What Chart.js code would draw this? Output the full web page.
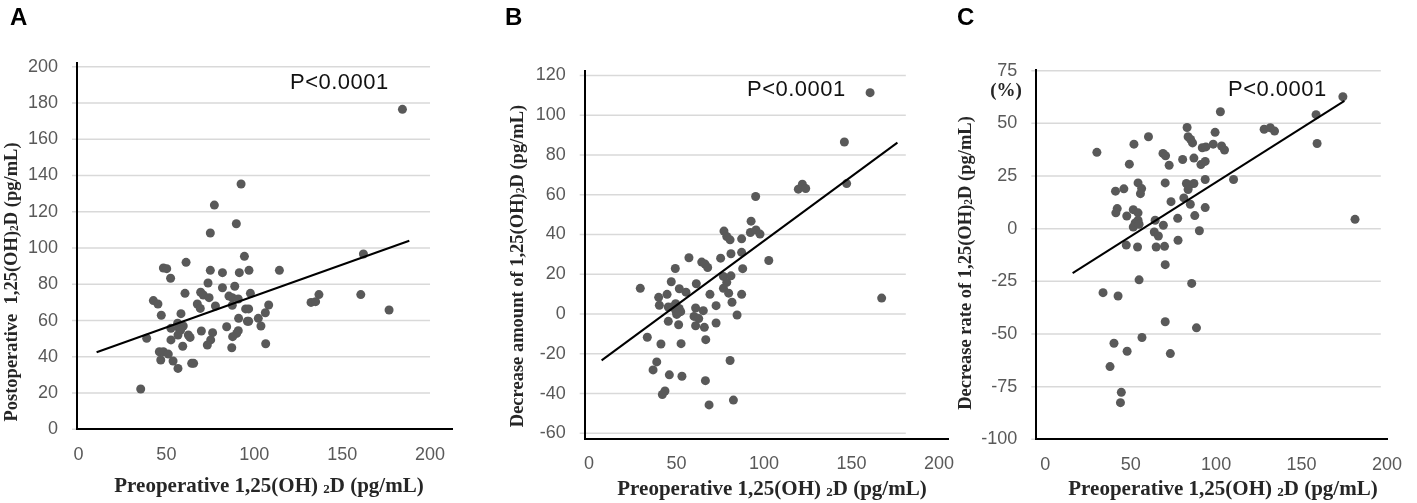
<!DOCTYPE html>
<html><head><meta charset="utf-8">
<script src="https://cdn.jsdelivr.net/npm/chart.js@4.4.1/dist/chart.umd.min.js"></script>
<style>
html,body{margin:0;padding:0;background:#fff;width:1417px;height:503px;overflow:hidden;position:relative;}
canvas{position:absolute;left:0;top:0;width:1417px;height:503px;}
.t{position:absolute;white-space:nowrap;line-height:1;}
.letter{font-family:'Liberation Sans',Arial,sans-serif;font-weight:bold;font-size:24px;color:#000;transform:translateY(-50%);}
.p{font-family:'Liberation Sans',Arial,sans-serif;font-size:22px;letter-spacing:0.5px;color:#111;transform:translateY(-50%);}
.xt{font-family:'Liberation Serif','Times New Roman',serif;font-weight:bold;font-size:21px;color:#262626;transform:translate(-50%,-50%);}
.yt{font-family:'Liberation Serif','Times New Roman',serif;font-weight:bold;font-size:18.5px;color:#262626;transform:translate(-50%,-50%) rotate(-90deg);}
.pc{font-family:'Liberation Serif','Times New Roman',serif;font-weight:bold;font-size:19px;color:#262626;transform:translate(-50%,-50%);}
.sub{font-size:0.62em;vertical-align:-0.1em;}
</style></head><body>
<canvas id="cA" width="1417" height="503"></canvas>
<canvas id="cB" width="1417" height="503"></canvas>
<canvas id="cC" width="1417" height="503"></canvas>

<div class="t letter" style="left:10px;top:17px;">A</div>
<div class="t letter" style="left:505px;top:17px;">B</div>
<div class="t letter" style="left:957px;top:17px;">C</div>

<div class="t p" style="left:290px;top:82px;">P&lt;0.0001</div>
<div class="t p" style="left:747px;top:89px;">P&lt;0.0001</div>
<div class="t p" style="left:1228px;top:89px;">P&lt;0.0001</div>

<div class="t xt" style="left:269px;top:485px;">Preoperative 1,25(OH) <span class="sub">2</span>D (pg/mL)</div>
<div class="t xt" style="left:772px;top:488px;">Preoperative 1,25(OH) <span class="sub">2</span>D (pg/mL)</div>
<div class="t xt" style="left:1223px;top:488px;">Preoperative 1,25(OH) <span class="sub">2</span>D (pg/mL)</div>

<div class="t yt" style="left:11px;top:282px;">Postoperative&nbsp; 1,25(OH)<span class="sub">2</span>D (pg/mL)</div>
<div class="t yt" style="left:517px;top:266px;">Decrease amount of 1,25(OH)<span class="sub">2</span>D (pg/mL)</div>
<div class="t yt" style="left:965px;top:263px;">Decrease rate of 1,25(OH)<span class="sub">2</span>D (pg/mL)</div>
<div class="t pc" style="left:1006px;top:89px;">(%)</div>

<script>
// ---------- data ----------
const xTickValues = [0, 50, 100, 150, 200];
const yTicksA = [0, 20, 40, 60, 80, 100, 120, 140, 160, 180, 200];
const yTicksB = [-60, -40, -20, 0, 20, 40, 60, 80, 100, 120];
const yTicksC = [-100, -75, -50, -25, 0, 25, 50, 75];

const preA = [184.3,92.5,77.3,75.0,89.8,94.4,162.1,61.2,48.3,50.2,75.0,81.9,91.5,97.0,114.3,52.4,73.7,88.9,81.9,60.6,69.5,71.0,74.3,97.8,136.8,160.6,85.6,87.5,90.9,42.6,45.2,67.6,77.9,87.5,69.3,108.2,132.3,134.9,95.1,96.8,176.7,106.3,58.3,47.1,91.1,102.3,96.1,96.8,103.8,84.3,56.4,59.6,52.6,57.2,58.1,90.9,69.9,76.3,90.0,56.6,62.5,63.5,87.7,52.6,75.2,38.8,73.3,59.3,87.2,106.5,46.0,48.3,51.1,46.8,53.8,64.4,65.5,56.6,35.4];
const postA = [176.5,135.3,123.7,108.3,113.4,95.4,96.7,92.1,89.0,88.6,87.7,86.4,86.4,87.7,87.7,83.3,80.7,78.9,78.1,75.0,75.6,74.1,72.6,75.0,74.3,74.3,73.5,72.6,71.9,71.0,69.1,69.1,68.0,68.4,66.7,68.6,70.0,70.4,66.4,66.4,65.8,64.3,63.8,62.9,61.2,61.2,59.6,59.6,57.0,56.6,58.5,57.0,55.7,55.7,54.8,54.4,54.2,53.3,52.9,52.0,52.0,50.7,51.1,49.3,49.3,50.2,46.5,45.8,45.0,47.2,42.8,42.8,41.5,38.2,37.7,36.4,36.4,33.6,22.2];
const trendXA = [10.3, 188.2];
const trendYA = [42.5, 104.0];

const preB = [160.6,145.9,147.2,119.6,121.9,123.8,95.2,92.6,92.2,95.4,97.7,77.1,78.7,80.6,87.2,102.7,75.2,81.1,87.2,87.8,57.1,64.4,66.3,67.8,49.3,47.0,61.3,76.8,81.1,78.7,76.8,79.8,69.1,87.2,29.3,51.6,55.4,44.6,39.8,40.2,45.3,49.5,51.0,52.4,50.1,60.9,65.3,72.6,81.7,60.0,62.7,60.9,65.9,51.2,45.3,72.6,84.6,33.3,41.1,52.6,66.7,80.6,38.7,36.6,45.9,53.1,66.5,43.4,41.9,82.5,68.6,167.2,47.5,49.7,51.5,50.5];
const decB = [111.3,86.5,65.6,62.8,65.3,63.1,59.1,46.7,41.0,42.3,40.2,41.7,39.0,37.3,37.8,26.9,28.1,30.3,31.0,22.8,28.3,26.1,25.1,23.4,22.9,16.2,15.2,18.9,19.2,15.9,12.9,10.5,9.9,9.9,12.9,12.7,11.0,9.9,8.4,4.4,3.5,5.2,2.2,1.2,-0.2,3.0,1.7,4.2,5.9,-1.2,-2.3,-5.9,-6.7,-5.4,-3.7,-4.5,-0.5,-11.7,-15.1,-14.9,-12.9,-23.4,-24.1,-28.1,-30.6,-31.3,-33.5,-38.7,-40.5,-43.3,-45.7,8.0,3.5,1.5,2.8,0.5];
const trendXB = [7.2, 176.2];
const trendYB = [-23.3, 86.2];

const preC = [174.2,102.5,158.5,159.1,128.1,131.7,134.2,83.0,83.6,85.1,86.2,60.4,99.4,51.9,98.3,103.2,104.9,91.9,94.0,30.2,68.9,70.4,49.2,72.5,80.4,87.0,91.1,93.6,110.2,93.6,54.3,70.2,82.6,84.2,87.0,56.4,55.7,46.0,41.1,83.6,81.1,84.9,73.6,42.1,41.3,93.6,51.5,54.3,47.7,87.5,77.5,64.3,54.3,52.6,51.5,54.9,69.1,181.3,63.8,66.2,90.2,77.7,47.4,54.0,64.9,69.8,70.2,54.9,85.7,33.8,42.6,70.2,88.5,56.6,40.2,47.9,73.2,37.9,44.5,44.0];
const rateC = [62.6,55.5,54.1,40.4,47.2,47.9,46.3,48.0,43.6,42.3,40.7,43.6,45.7,40.1,40.1,39.2,37.3,38.4,38.8,36.2,35.7,34.6,30.6,30.1,32.8,33.5,30.4,31.9,23.3,23.3,21.7,21.7,21.4,20.6,21.4,19.0,16.6,18.9,17.8,18.6,14.6,11.6,12.8,9.5,7.5,10.0,9.0,7.5,6.0,6.2,4.9,4.0,4.0,2.7,0.8,2.1,1.6,4.4,-1.6,-3.5,-1.0,-5.5,-7.8,-8.7,-8.7,-8.4,-17.1,-24.3,-26.0,-30.4,-32.0,-44.2,-47.1,-51.7,-54.4,-58.2,-59.3,-65.5,-77.7,-82.6];
const trendXC = [16.0, 175.1];
const trendYC = [-21.1, 60.6];

// ---------- layout / style ----------
const W = 1417, H = 503, YW = 60, XH = 50;
const tickFont = {family: "'Liberation Sans', Arial, sans-serif", size: 18};
const tickColor = '#595959';
const pointColor = '#595959';

function build(id, xs, ys, tx, ty, yTicks, box) {
  const pts = xs.map((x, i) => ({x: x, y: ys[i]}));
  const trend = tx.map((x, i) => ({x: x, y: ty[i]}));
  const hgrid = {
    id: 'hgrid',
    beforeDraw(chart) {
      const {ctx, chartArea, scales} = chart;
      const xe = scales.x.getPixelForValue(box.gridEnd);
      ctx.save();
      ctx.strokeStyle = '#d9d9d9';
      ctx.lineWidth = 1.5;
      yTicks.forEach(v => {
        const py = scales.y.getPixelForValue(v);
        ctx.beginPath();
        ctx.moveTo(chartArea.left - 5, py);
        ctx.lineTo(xe, py);
        ctx.stroke();
      });
      ctx.restore();
    }
  };
  new Chart(document.getElementById(id), {
    type: 'scatter',
    data: {
      datasets: [
        {type: 'line', data: trend, borderColor: '#000', borderWidth: 2, pointRadius: 0, fill: false, tension: 0},
        {type: 'scatter', data: pts, backgroundColor: pointColor, borderColor: pointColor, borderWidth: 0, pointRadius: 4.5, pointHoverRadius: 4.5}
      ]
    },
    options: {
      responsive: false, animation: false, events: [], devicePixelRatio: 1,
      layout: {autoPadding: false, padding: {left: box.L - YW, top: box.T, right: W - box.R, bottom: H - box.B - XH}},
      plugins: {legend: {display: false}, tooltip: {enabled: false}},
      scales: {
        x: {
          type: 'linear', position: 'bottom', min: box.xMin, max: box.xMax,
          afterBuildTicks: s => { s.ticks = xTickValues.map(v => ({value: v})); },
          afterFit: s => { s.height = XH; },
          grid: {display: false, drawTicks: false},
          border: {display: true, color: '#000', width: 2},
          ticks: {font: tickFont, color: tickColor, padding: 15, maxRotation: 0, autoSkip: false}
        },
        y: {
          type: 'linear', position: 'left', min: box.yMin, max: box.yMax,
          afterBuildTicks: s => { s.ticks = yTicks.map(v => ({value: v})); },
          afterFit: s => { s.width = YW; },
          grid: {display: false, drawTicks: false},
          border: {display: true, color: '#000', width: 2},
          ticks: {font: tickFont, color: tickColor, padding: 19, autoSkip: false}
        }
      }
    },
    plugins: [hgrid]
  });
}

build('cA', preA, postA, trendXA, trendYA, yTicksA,
  {L: 77, T: 63.3, R: 452, B: 429.3, xMin: -0.85, xMax: 212.5, yMin: 0, yMax: 201.9, gridEnd: 200});
build('cB', preB, decB, trendXB, trendYB, yTicksB,
  {L: 584.7, T: 71, R: 948, B: 438.7, xMin: -2.46, xMax: 205.1, yMin: -62.7, yMax: 122.2, gridEnd: 181});
build('cC', preC, rateC, trendXC, trendYC, yTicksC,
  {L: 1036.3, T: 70, R: 1399.5, B: 439.3, xMin: -5.26, xMax: 200.2, yMin: -100, yMax: 75.3, gridEnd: 196.4});
</script>
</body></html>
